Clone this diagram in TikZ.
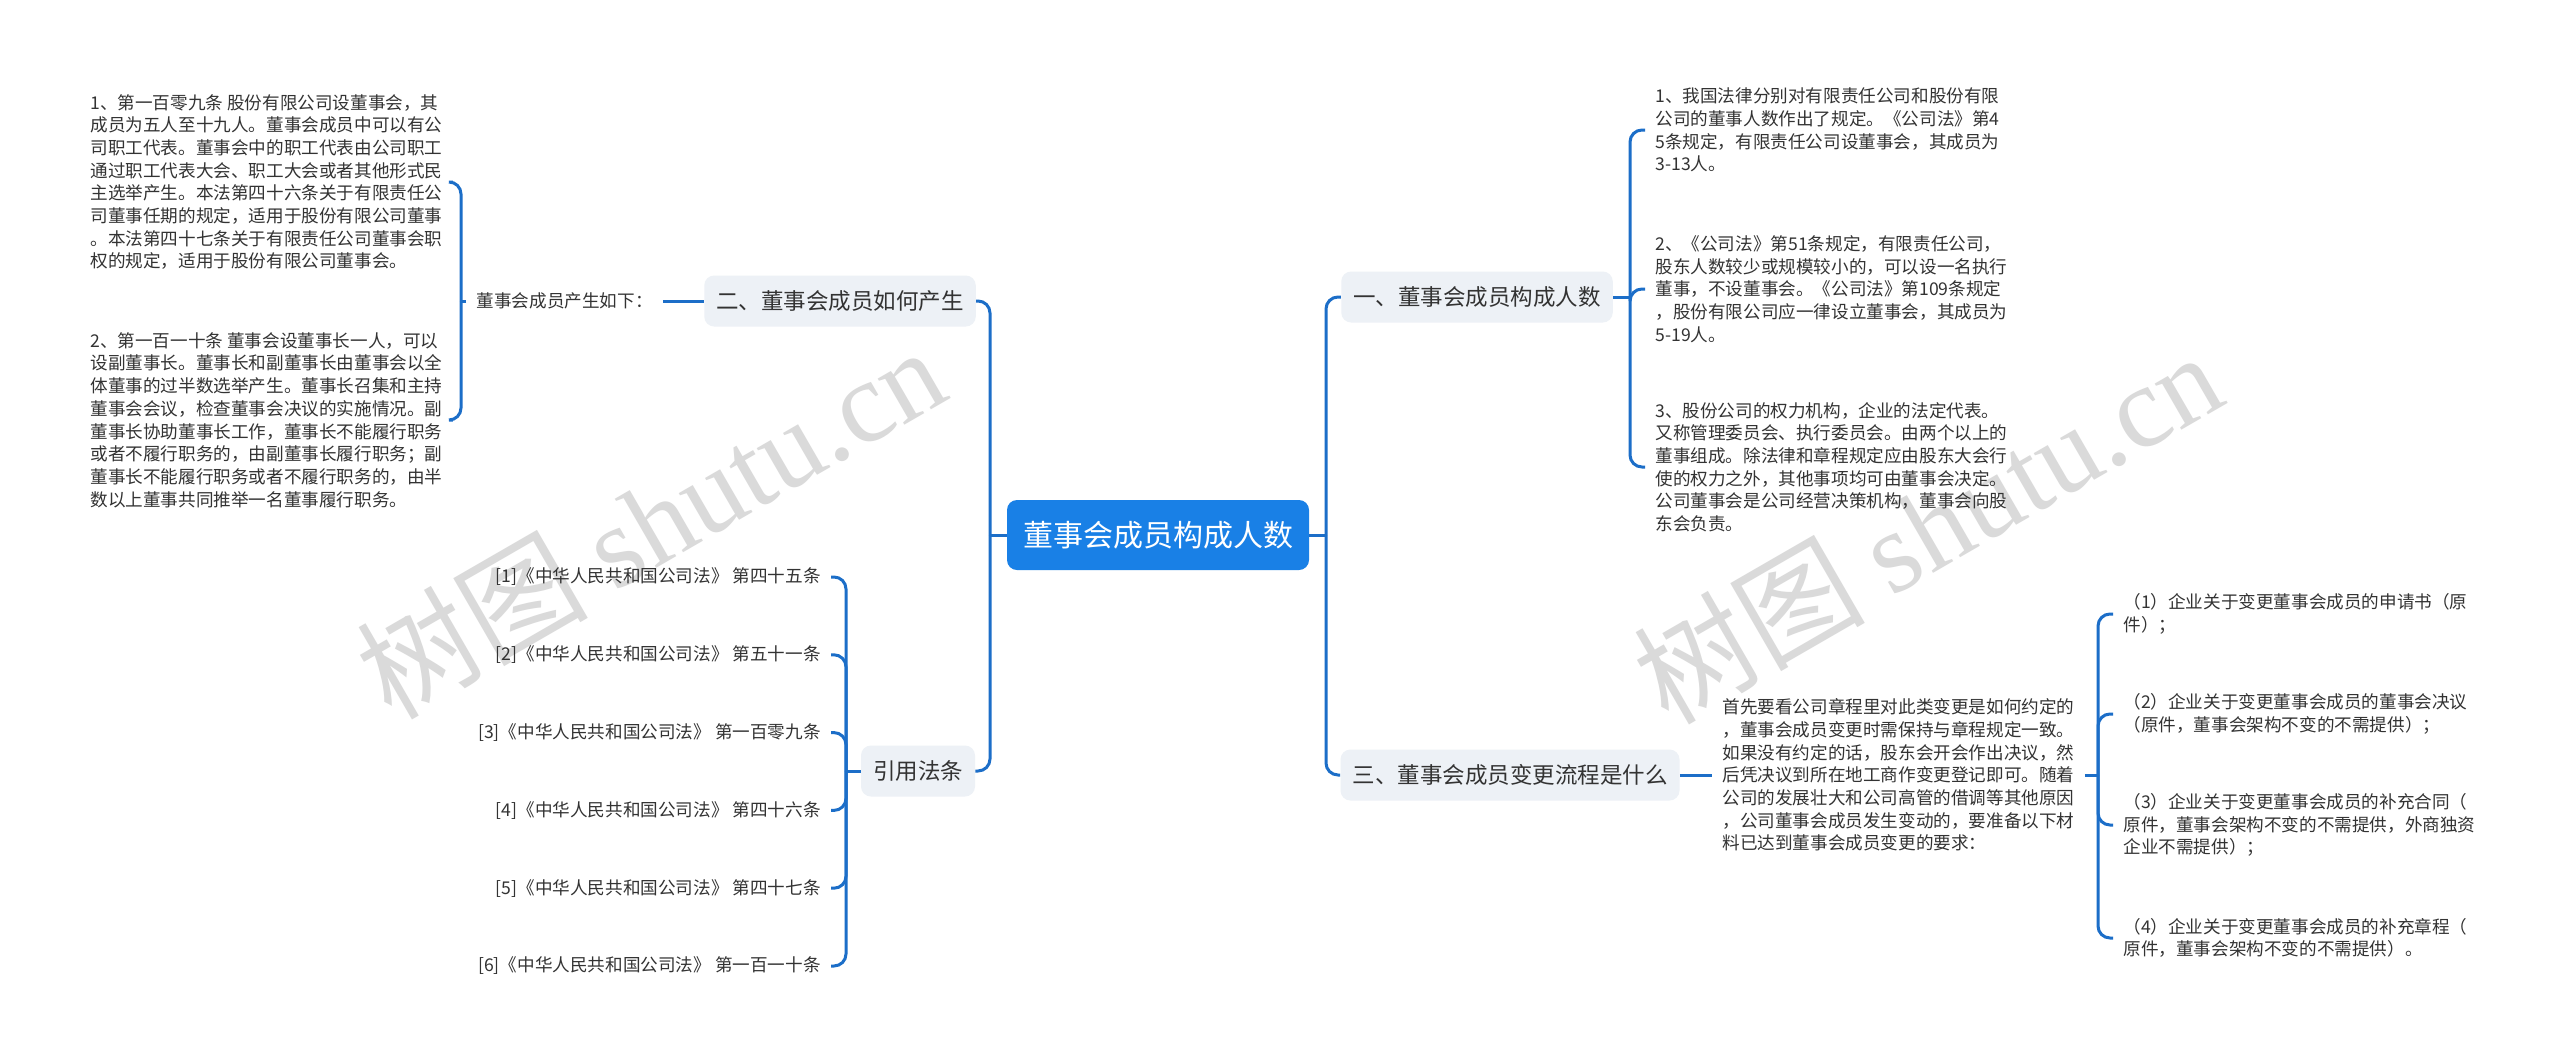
\documentclass[tikz,border=0pt]{standalone}
\usepackage{fontspec}
\setmainfont{Noto Sans CJK SC}
\newfontfamily\wmserif{Liberation Serif}
\usepackage{tikz}
\definecolor{rootblue}{RGB}{25,128,230}
\definecolor{linkblue}{RGB}{28,110,200}
\definecolor{topicgray}{RGB}{237,241,246}
\definecolor{inkgray}{RGB}{51,51,51}
\definecolor{wmgray}{RGB}{218,218,218}

\begin{document}
\begin{tikzpicture}
		[x=0.5pt, y=-0.5pt,
		every node/.style={text=inkgray, inner sep=0pt},
		root/.style={fill=rootblue, text=white, rounded corners=5pt,
			font=\fontsize{15pt}{18pt}\selectfont, inner xsep=8pt, minimum height=35pt},
		topic/.style={fill=topicgray, rounded corners=5pt,
			font=\fontsize{11.25pt}{13.5pt}\selectfont, inner xsep=6pt, minimum height=25.5pt},
		leaf/.style={align=left, font=\fontsize{8.8pt}{11.35pt}\selectfont, inner xsep=5pt, inner ysep=2pt},
		link/.style={draw=linkblue, line width=1.5pt, rounded corners=6pt},
		wmark/.style={text=wmgray, rotate=30, font=\fontsize{58pt}{60pt}\selectfont},
		]
		\fill[white] (0,0) rectangle (2560,1061);
		\useasboundingbox (0,0) rectangle (2560,1061);
		
		% watermarks
		\node[wmark] (wm1) at (650,521) {树图 {\wmserif shutu.cn}};
		\node[wmark] (wm2) at (1927,526) {树图 {\wmserif shutu.cn}};
		
		\node[root] (root) at (1158,535) {董事会成员构成人数};
		\node[topic] (t1) at (1477,297) {一、董事会成员构成人数};
		\node[topic] (t2) at (840,301) {二、董事会成员如何产生};
		\node[topic] (t3) at (1510,775) {三、董事会成员变更流程是什么};
		\node[topic] (t4) at (918,771) {引用法条};
		
		% 一
		\node[leaf, anchor=west] (a1) at (1645,130) {1、我国法律分别对有限责任公司和股份有限\\公司的董事人数作出了规定。《公司法》第4\\5条规定，有限责任公司设董事会，其成员为\\3-13人。};
		\node[leaf, anchor=west] (a2) at (1645,289) {2、《公司法》第51条规定，有限责任公司，\\股东人数较少或规模较小的，可以设一名执行\\董事，不设董事会。《公司法》第109条规定\\，股份有限公司应一律设立董事会，其成员为\\5-19人。};
		\node[leaf, anchor=west] (a3) at (1645,467) {3、股份公司的权力机构，企业的法定代表。\\又称管理委员会、执行委员会。由两个以上的\\董事组成。除法律和章程规定应由股东大会行\\使的权力之外，其他事项均可由董事会决定。\\公司董事会是公司经营决策机构，董事会向股\\东会负责。};
		
		% 二
		\node[leaf, anchor=east] (gen) at (663,301) {董事会成员产生如下：};
		\node[leaf, anchor=west] (b1) at (80,182) {1、第一百零九条 股份有限公司设董事会，其\\成员为五人至十九人。董事会成员中可以有公\\司职工代表。董事会中的职工代表由公司职工\\通过职工代表大会、职工大会或者其他形式民\\主选举产生。本法第四十六条关于有限责任公\\司董事任期的规定，适用于股份有限公司董事\\。本法第四十七条关于有限责任公司董事会职\\权的规定，适用于股份有限公司董事会。};
		\node[leaf, anchor=west] (b2) at (80,420) {2、第一百一十条 董事会设董事长一人，可以\\设副董事长。董事长和副董事长由董事会以全\\体董事的过半数选举产生。董事长召集和主持\\董事会会议，检查董事会决议的实施情况。副\\董事长协助董事长工作，董事长不能履行职务\\或者不履行职务的，由副董事长履行职务；副\\董事长不能履行职务或者不履行职务的，由半\\数以上董事共同推举一名董事履行职务。};
		
		% 三
		\node[leaf, anchor=west] (flow) at (1712,775) {首先要看公司章程里对此类变更是如何约定的\\，董事会成员变更时需保持与章程规定一致。\\如果没有约定的话，股东会开会作出决议，然\\后凭决议到所在地工商作变更登记即可。随着\\公司的发展壮大和公司高管的借调等其他原因\\，公司董事会成员发生变动的，要准备以下材\\料已达到董事会成员变更的要求：};
		\node[leaf, anchor=west] (c1) at (2113,614) {（1）企业关于变更董事会成员的申请书（原\\件）；};
		\node[leaf, anchor=west] (c2) at (2113,714) {（2）企业关于变更董事会成员的董事会决议\\（原件，董事会架构不变的不需提供）；};
		\node[leaf, anchor=west] (c3) at (2113,825) {（3）企业关于变更董事会成员的补充合同（\\原件，董事会架构不变的不需提供，外商独资\\企业不需提供）；};
		\node[leaf, anchor=west] (c4) at (2113,938) {（4）企业关于变更董事会成员的补充章程（\\原件，董事会架构不变的不需提供）。};
		
		% 引用法条
		\foreach \i/\art [count=\k from 0] in {1/第四十五条, 2/第五十一条, 3/第一百零九条,
			4/第四十六条, 5/第四十七条, 6/第一百一十条}
		\node[leaf, anchor=east] (ref\i) at (831,{577+77.8*\k}) {[\i]《中华人民共和国公司法》 \art};
		
		% connectors
		\coordinate (jr) at (1326,535);
		\coordinate (jl) at (990,535);
		\coordinate (ja) at (1630,297);
		\coordinate (jb) at (461,301);
		\coordinate (jc) at (846,771);
		\coordinate (jd) at (2098,775);
		
		\draw[link] (root.east) -- (jr);
		\draw[link] (jr) |- (t1.west);
		\draw[link] (jr) |- (t3.west);
		\draw[link] (root.west) -- (jl);
		\draw[link] (jl) |- (t2.east);
		\draw[link] (jl) |- (t4.east);
		
		\draw[link] (t1.east) -- (ja);
		\foreach \n in {a1,a2,a3}
		\draw[link] (ja) |- (\n.west);
		
		\draw[link] (t2.west) -- (gen.east);
		\draw[link] (gen.west) -- (jb);
		\draw[link] (jb) |- (b1.east);
		\draw[link] (jb) |- (b2.east);
		
		\draw[link] (t4.west) -- (jc);
		\foreach \i in {1,...,6}
		\draw[link] (jc) |- (ref\i.east);
		
		\draw[link] (t3.east) -- (flow.west);
		\draw[link] (flow.east) -- (jd);
		\foreach \n in {c1,c2,c3,c4}
		\draw[link] (jd) |- (\n.west);
		
	\end{tikzpicture}
\end{document}
